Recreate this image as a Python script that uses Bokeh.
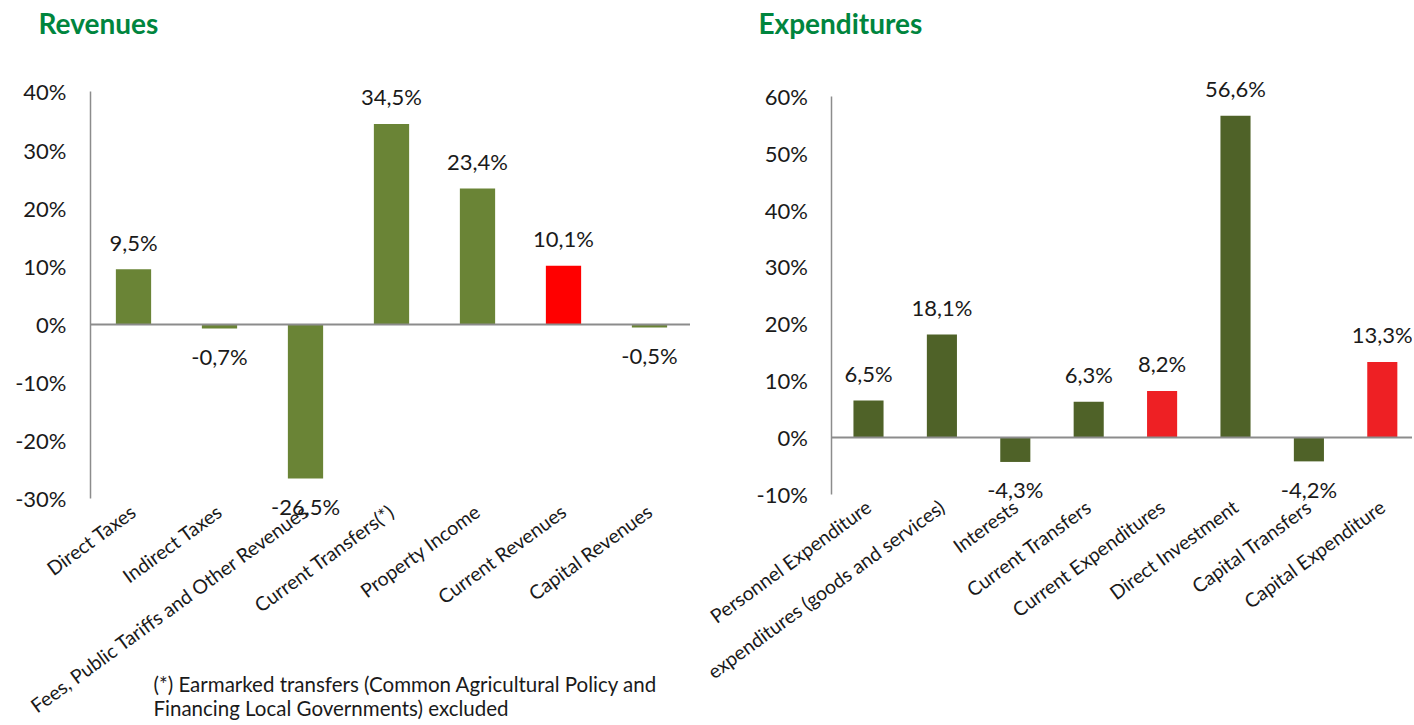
from bokeh.plotting import figure
from bokeh.layouts import row
from bokeh.models import (Range1d, FixedTicker, PrintfTickFormatter, Label, ColumnDataSource,
                          LinearAxis)
from bokeh.core.properties import value
from bokeh.embed import file_html
from bokeh.resources import INLINE

FONT = "Lato"

rev_categories = ["Direct Taxes", "Indirect Taxes", "Fees, Public Tariffs and Other Revenues",
                  "Current Transfers(*)", "Property Income", "Current Revenues", "Capital Revenues"]
rev_values = [9.5, -0.7, -26.5, 34.5, 23.4, 10.1, -0.5]
rev_highlight = [False, False, False, False, False, True, False]
rev_ticks = [-30, -20, -10, 0, 10, 20, 30, 40]

exp_categories = ["Personnel Expenditure", "expenditures (goods and services)", "Interests",
                  "Current Transfers", "Current Expenditures", "Direct Investment",
                  "Capital Transfers", "Capital Expenditure"]
exp_values = [6.5, 18.1, -4.3, 6.3, 8.2, 56.6, -4.2, 13.3]
exp_highlight = [False, False, False, False, True, False, False, True]
exp_ticks = [-10, 0, 10, 20, 30, 40, 50, 60]

footnote_lines = ["(*) Earmarked transfers (Common Agricultural Policy and",
                  "Financing Local Governments) excluded"]

TITLE_GREEN = "#00853e"
AXIS_GRAY = "#8c8c8c"
TEXT = "#1a1a1a"
H = 723


def fmt(v):
    return ("%.1f" % v).replace(".", ",") + "%"


def make_chart(title, cats, vals, hl, ticks, width, x0_px, step_px, zero_px, unit_px,
               green, red, title_x, zero_line_end=None):
    n = len(cats)
    xr = Range1d(-x0_px / step_px, (width - x0_px) / step_px)
    yr = Range1d(-(H - zero_px) / unit_px, zero_px / unit_px)
    p = figure(width=width, height=H, output_backend="svg", toolbar_location=None,
               x_range=xr, y_range=yr, min_border=0,
               min_border_left=0, min_border_right=0, min_border_top=0, min_border_bottom=0)
    p.outline_line_color = None
    p.xgrid.visible = False
    p.ygrid.visible = False
    p.background_fill_color = "white"

    idx = list(range(n))
    colors = [red if h else green for h in hl]
    labels = [fmt(v) for v in vals]
    offs = [-27 if v >= 0 else 28 for v in vals]
    src = ColumnDataSource(dict(x=idx, top=vals, color=colors, label=labels, off=offs))

    p.vbar(x="x", top="top", bottom=0, width=0.41, fill_color="color", line_color=None, source=src)
    p.text(x="x", y="top", text="label", y_offset="off", text_align="center", text_baseline="middle",
           text_font=value(FONT), text_font_size="22px", text_color=TEXT, source=src)

    # zero line as an axis without ticks
    zl = LinearAxis(fixed_location=0, ticker=FixedTicker(ticks=[]),
                    bounds=(-0.5, zero_line_end if zero_line_end is not None else n - 0.5),
                    axis_line_color=AXIS_GRAY, axis_line_width=2,
                    major_tick_line_color=None, minor_tick_line_color=None,
                    major_label_text_color=None)
    p.add_layout(zl, "below")

    # y axis
    yax = p.yaxis[0]
    yax.fixed_location = -0.5
    yax.bounds = (ticks[0], ticks[-1])
    yax.ticker = FixedTicker(ticks=ticks)
    yax.formatter = PrintfTickFormatter(format="%d%%")
    yax.axis_line_color = AXIS_GRAY
    yax.axis_line_width = 1.5
    yax.major_tick_line_color = None
    yax.minor_tick_line_color = None
    yax.major_tick_out = 0
    yax.major_tick_in = 0
    yax.major_label_standoff = 24
    yax.major_label_text_font = FONT
    yax.major_label_text_font_size = "22px"
    yax.major_label_text_color = TEXT

    # x axis (categories)
    xax = p.xaxis[0]
    xax.fixed_location = ticks[0]
    xax.ticker = FixedTicker(ticks=idx)
    xax.major_label_overrides = {i: c for i, c in enumerate(cats)}
    xax.axis_line_color = None
    xax.major_tick_line_color = None
    xax.minor_tick_line_color = None
    xax.major_tick_out = 0
    xax.major_tick_in = 0
    xax.major_label_standoff = 10
    xax.major_label_orientation = 0.63
    xax.major_label_text_font = FONT
    xax.major_label_text_font_size = "19.5px"
    xax.major_label_text_color = TEXT

    p.add_layout(Label(x=title_x, y=H - 22, x_units="screen", y_units="screen", text=title,
                       text_font=FONT, text_font_style="bold", text_font_size="28px",
                       text_color=TITLE_GREEN, text_baseline="middle", text_align="left"))
    return p


left = make_chart("Revenues", rev_categories, rev_values, rev_highlight, rev_ticks,
                  width=690, x0_px=133, step_px=86, zero_px=324, unit_px=407 / 70,
                  green="#6a8436", red="#ff0000", title_x=38)

for i, line in enumerate(footnote_lines):
    left.add_layout(Label(x=153, y=H - 683 - 24 * i, x_units="screen", y_units="screen", text=line,
                          text_font=FONT, text_font_size="20.5px", text_color=TEXT,
                          text_baseline="middle", text_align="left"))

RW = 722
right = make_chart("Expenditures", exp_categories, exp_values, exp_highlight, exp_ticks,
                   width=RW, x0_px=178, step_px=73.4, zero_px=437, unit_px=398 / 70,
                   green="#4f6228", red="#ee2024", title_x=68, zero_line_end=(RW - 178) / 73.4)

layout = row(left, right)
open("out.html", "w").write(file_html(layout, INLINE))
